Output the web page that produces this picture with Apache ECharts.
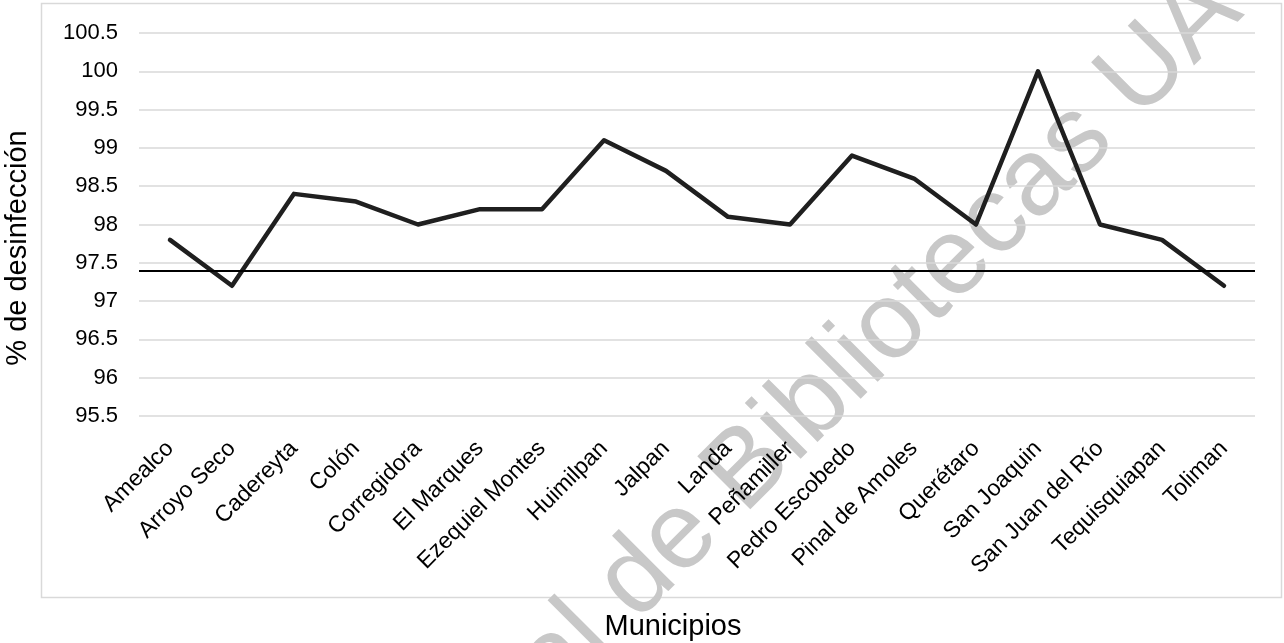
<!DOCTYPE html>
<html>
<head>
<meta charset="utf-8">
<script src="https://cdn.jsdelivr.net/npm/echarts@6/dist/echarts.min.js"></script>
<style>
  html, body { margin: 0; padding: 0; background: #ffffff; }
  #chart { width: 1284px; height: 643px; }
</style>
</head>
<body>
<div id="chart"></div>
<script>
const categories = ['Amealco', 'Arroyo Seco', 'Cadereyta', 'Colón', 'Corregidora', 'El Marques',
  'Ezequiel Montes', 'Huimilpan', 'Jalpan', 'Landa', 'Peñamiller', 'Pedro Escobedo',
  'Pinal de Amoles', 'Querétaro', 'San Joaquin', 'San Juan del Río', 'Tequisquiapan', 'Toliman'];
const desinfeccion = [97.8, 97.2, 98.4, 98.3, 98.0, 98.2, 98.2, 99.1, 98.7, 98.1, 98.0, 98.9,
  98.6, 98.0, 100.0, 98.0, 97.8, 97.2];
const referencia = 97.4;
const yTitle = '% de desinfección';
const xTitle = 'Municipios';
const watermark = 'Dirección General de Bibliotecas UAQ';

const FONT = '"Liberation Sans", Arial, sans-serif';
const chart = echarts.init(document.getElementById('chart'), null, { renderer: 'canvas' });

const ang = 45 * Math.PI / 180;
const wmSize = 109;
// anchor: left-middle of the visible "l" of "General"
const lx = 577, ly = 640;
const prefixEm = 7.78;
const wmX = lx - prefixEm * wmSize * Math.cos(ang);
const wmY = ly + prefixEm * wmSize * Math.sin(ang);

chart.setOption({
  animation: false,
  backgroundColor: '#ffffff',
  grid: { left: 139, right: 29, top: 33, bottom: 227, containLabel: false },
  xAxis: {
    type: 'category',
    data: categories,
    boundaryGap: true,
    axisLine: { show: false },
    axisTick: { show: false },
    axisLabel: {
      rotate: 45,
      interval: 0,
      margin: 29,
      fontFamily: FONT,
      fontSize: 23,
      color: '#000000'
    },
    splitLine: { show: false }
  },
  yAxis: {
    type: 'value',
    min: 95.5,
    max: 100.5,
    interval: 0.5,
    axisLine: { show: false },
    axisTick: { show: false },
    axisLabel: {
      margin: 21,
      fontFamily: FONT,
      fontSize: 22,
      color: '#000000'
    },
    splitLine: { show: true, lineStyle: { color: '#d9d9d9', width: 1.5 } }
  },
  graphic: [
    {
      type: 'rect',
      z: -20,
      silent: true,
      shape: { x: 41.5, y: 3.5, width: 1240, height: 594 },
      style: { fill: 'none', stroke: '#d9d9d9', lineWidth: 1.5 }
    },
    {
      type: 'text',
      z: -10,
      silent: true,
      x: wmX,
      y: wmY,
      rotation: ang,
      style: {
        text: watermark,
        fontFamily: FONT,
        fontSize: wmSize,
        fill: '#c8c8c8',
        align: 'left',
        verticalAlign: 'middle'
      }
    },
    {
      type: 'text',
      silent: true,
      x: 18,
      y: 248,
      rotation: Math.PI / 2,
      style: {
        text: yTitle,
        fontFamily: FONT,
        fontSize: 29,
        fill: '#000000',
        align: 'center',
        verticalAlign: 'middle'
      }
    },
    {
      type: 'text',
      silent: true,
      x: 673,
      y: 627,
      style: {
        text: xTitle,
        fontFamily: FONT,
        fontSize: 29,
        fill: '#000000',
        align: 'center',
        verticalAlign: 'middle'
      }
    }
  ],
  series: [
    {
      type: 'line',
      data: desinfeccion,
      showSymbol: false,
      symbol: 'none',
      lineStyle: { color: '#1f1f1f', width: 4.5, join: 'round', cap: 'round' },
      z: 3,
      markLine: {
        silent: true,
        symbol: 'none',
        label: { show: false },
        lineStyle: { color: '#000000', width: 2, type: 'solid' },
        data: [{ yAxis: referencia }]
      }
    }
  ]
});
</script>
</body>
</html>
